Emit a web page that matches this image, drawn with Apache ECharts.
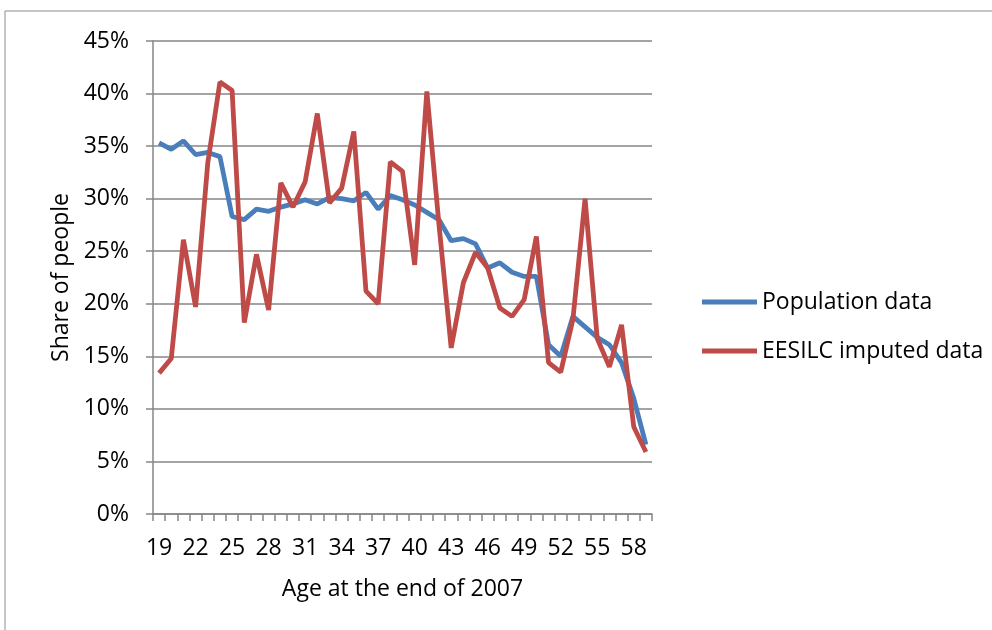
<!DOCTYPE html>
<html>
<head>
<meta charset="utf-8">
<script src="https://cdn.jsdelivr.net/npm/echarts@6/dist/echarts.min.js"></script>
<style>
  html, body { margin: 0; padding: 0; background: #fff; }
  #main { width: 992px; height: 630px; }
</style>
</head>
<body>
<div id="main"></div>
<script>
var ages = [];
for (var a = 19; a <= 59; a++) ages.push(String(a));

// share of people, in %
var population = [35.3, 34.7, 35.5, 34.2, 34.4, 34.0, 28.3, 28.0, 29.0, 28.8,
                  29.2, 29.5, 29.9, 29.5, 30.1, 30.0, 29.8, 30.6, 29.0, 30.3,
                  29.9, 29.4, 28.7, 28.0, 26.0, 26.2, 25.7, 23.4, 23.9, 23.0,
                  22.6, 22.6, 16.1, 15.0, 18.8, 17.8, 16.8, 16.1, 14.4, 11.0, 6.6];
var eesilc = [13.4, 14.8, 26.1, 19.7, 33.4, 41.1, 40.3, 18.2, 24.7, 19.4,
              31.5, 29.2, 31.6, 38.1, 29.6, 31.0, 36.4, 21.2, 20.0, 33.5,
              32.6, 23.7, 40.2, 27.5, 15.8, 22.0, 24.9, 23.4, 19.6, 18.8,
              20.4, 26.4, 14.4, 13.5, 18.5, 30.0, 16.7, 14.0, 18.0, 8.3, 5.9];
var seriesNames = ['Population data', 'EESILC imputed data'];

var font = "'Open Sans', 'Noto Sans', sans-serif";
var axisGray = '#868686';

var myChart = echarts.init(document.getElementById('main'));
option = {
    backgroundColor: '#ffffff',
    animation: false,
    textStyle: { fontFamily: font },
    graphic: [{
        type: 'rect',
        shape: { x: 5, y: 11, width: 1000, height: 640 },
        style: { fill: 'none', stroke: '#8c8c8c', lineWidth: 1 }
    }],
    grid: { left: 153, right: 340, top: 41, bottom: 116 },
    legend: {
        orient: 'vertical',
        left: 697,
        top: 285,
        icon: 'rect',
        itemWidth: 55,
        itemHeight: 5,
        itemGap: 25,
        textStyle: { fontSize: 23, color: '#000', fontFamily: font, lineHeight: 24 },
        data: seriesNames
    },
    xAxis: {
        type: 'category',
        data: ages,
        boundaryGap: true,
        name: 'Age at the end of 2007',
        nameLocation: 'middle',
        nameGap: 64,
        nameTextStyle: { fontSize: 23, color: '#000', fontFamily: font },
        axisLine: { lineStyle: { color: axisGray, width: 1.5 } },
        axisTick: { show: true, interval: 0, length: 7, lineStyle: { color: axisGray, width: 1.5 } },
        axisLabel: { interval: 2, margin: 23, fontSize: 23, color: '#000', fontFamily: font },
        splitLine: { show: false }
    },
    yAxis: {
        type: 'value',
        min: 0,
        max: 45,
        interval: 5,
        name: 'Share of people',
        nameLocation: 'middle',
        nameGap: 80,
        nameTextStyle: { fontSize: 23, color: '#000', fontFamily: font },
        axisLine: { show: true, lineStyle: { color: axisGray, width: 1.5 } },
        axisTick: { show: true, length: 7, lineStyle: { color: axisGray, width: 1.5 } },
        axisLabel: { margin: 24, fontSize: 23, color: '#000', fontFamily: font, formatter: '{value}%' },
        splitLine: { lineStyle: { color: axisGray, width: 1.5 } }
    },
    series: [
        {
            name: seriesNames[0],
            type: 'line',
            data: population,
            showSymbol: false,
            symbol: 'none',
            itemStyle: { color: '#4a7ebb' },
            lineStyle: { color: '#4a7ebb', width: 4.8 }
        },
        {
            name: seriesNames[1],
            type: 'line',
            data: eesilc,
            showSymbol: false,
            symbol: 'none',
            itemStyle: { color: '#be4b48' },
            lineStyle: { color: '#be4b48', width: 4.8 }
        }
    ]
};
myChart.setOption(option);
</script>
</body>
</html>
